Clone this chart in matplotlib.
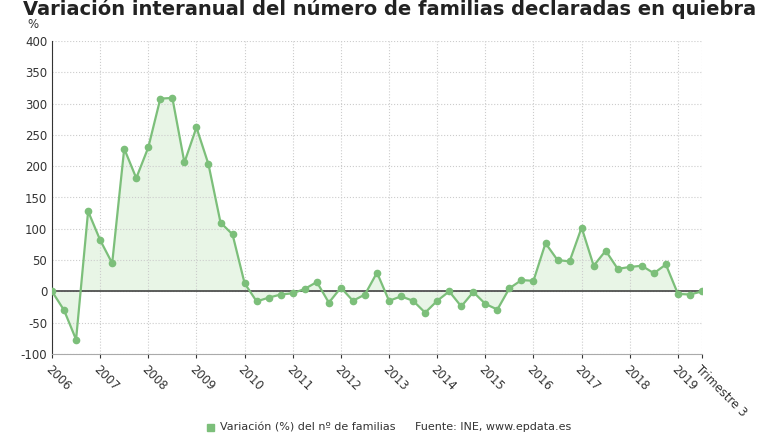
import matplotlib
matplotlib.use("Agg")
import matplotlib.pyplot as plt
import numpy as np
plt.rcParams["axes.unicode_minus"] = False

values = [0, -30, -77, 128, 82, 45, 228, 181, 230, 308, 309, 206, 262, 203, 110, 91,
          13, -16, -10, -5, -3, 4, 15, -18, 6, -15, -5, 30, -15, -8, -15, -34, -15, 0,
          -24, -1, -20, -29, 5, 18, 17, 77, 50, 48, 102, 41, 65, 36, 39, 41, 29, 43,
          -4, -5, 0]
years = [str(y) for y in range(2006, 2020)]
last_label = "Trimestre 3"

green = "#7cbf7a"
x = np.arange(len(values))
fig = plt.figure(figsize=(7.8, 4.4), dpi=100)
ax = fig.add_axes([52/780, 1-354/440, 650/780, 313/440])
v = np.array(values, float)
ax.fill_between(x, v, 0, color="#e6f4e4", alpha=0.9, lw=0)
ax.plot(x, v, color=green, lw=1.6, marker="o", ms=4.5, mfc=green, mec=green, zorder=3)
ax.axhline(0, color="#444444", lw=1.2, zorder=2)
ax.set_xlim(0, len(values)-1)
ax.set_ylim(-100, 400)
ax.set_yticks(range(-100, 401, 50))
ax.tick_params(axis="y", labelsize=8.5, length=0, colors="#333333")
ticks = list(range(0, 4*len(years), 4)) + [len(values)-1]
ax.set_xticks(ticks)
ax.set_xticklabels(years + [last_label], rotation=-45, ha="left", rotation_mode="anchor", fontsize=8.5, color="#333333")
ax.tick_params(axis="x", length=3, colors="#333333")
ax.grid(True, ls=":", color="#cccccc", lw=0.8)
for s in ["top", "right"]:
    ax.spines[s].set_visible(False)
ax.spines["left"].set_color("#333333")
ax.spines["bottom"].set_color("#aaaaaa")
fig.text(27/780, 1-25/440, "%", fontsize=8.5, color="#333333", va="center")
fig.text(390/780, 1-9/440, "Variación interanual del número de familias declaradas en quiebra",
         fontsize=14, fontweight="bold", ha="center", va="center", color="#222222")
fig.patches.append(plt.Rectangle((207/780, 1-431/440), 7/780, 7/440, transform=fig.transFigure, color=green))
fig.text(220/780, 1-427/440, "Variación (%) del nº de familias", fontsize=8, va="center", color="#333333")
fig.text(415/780, 1-427/440, "Fuente: INE, www.epdata.es", fontsize=8, va="center", color="#333333")
fig.savefig("out.png", dpi=100)
